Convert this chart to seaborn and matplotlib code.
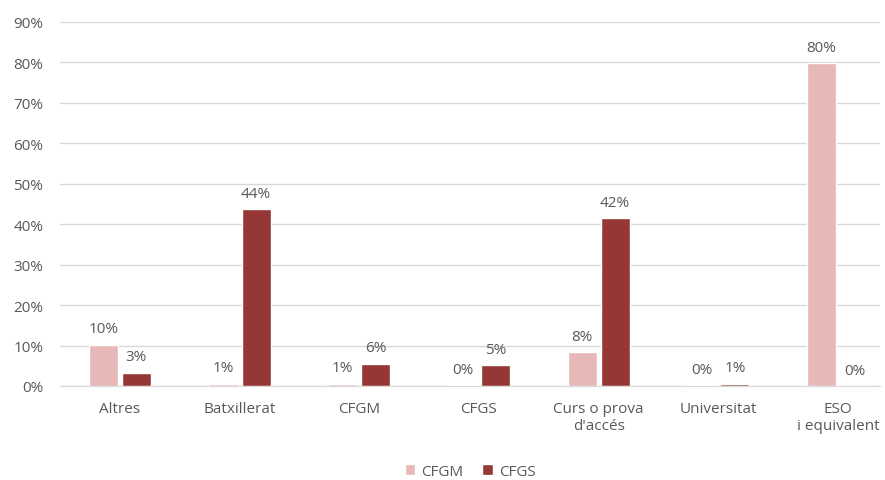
import pandas as pd
import numpy as np
import matplotlib.pyplot as plt
import seaborn as sns

# Data
categories = ['Altres', 'Batxillerat', 'CFGM', 'CFGS', "Curs o prova\nd'accés", 'Universitat', 'ESO\ni equivalent']
cfgm = [10.2, 0.6, 0.6, 0.2, 8.4, 0.2, 79.8]
cfgs = [3.3, 43.8, 5.5, 5.2, 41.5, 0.6, 0.0]
cfgm_labels = ['10%', '1%', '1%', '0%', '8%', '0%', '80%']
cfgs_labels = ['3%', '44%', '6%', '5%', '42%', '1%', '0%']

df = pd.DataFrame({
    'cat': categories * 2,
    'val': cfgm + cfgs,
    'grup': ['CFGM'] * len(categories) + ['CFGS'] * len(categories),
})

sns.set_style('white')
plt.rcParams['font.family'] = ['Open Sans', 'DejaVu Sans']
text_col = '#595959'
fs = 11

fig = plt.figure(figsize=(8.85, 4.81), dpi=100)
ax = fig.add_axes([60 / 885, 1 - 387 / 481, 820 / 885, 364 / 481])

sns.barplot(data=df, x='cat', y='val', hue='grup', palette=['#e6b8b7', '#953735'],
            saturation=1, width=0.55, gap=0.12, ax=ax, legend=True)

# value labels
for cont, labels in zip(ax.containers, [cfgm_labels, cfgs_labels]):
    ax.bar_label(cont, labels=labels, padding=6, fontsize=fs, color=text_col)

ax.set_ylim(0, 90)
ax.set_xlim(-0.5, 6.35)
ax.set_yticks(np.arange(0, 91, 10))
ax.set_yticklabels([f'{v}%' for v in range(0, 91, 10)])
ax.yaxis.grid(True, color='#d9d9d9', linewidth=1)
ax.set_axisbelow(True)
for s in ax.spines.values():
    s.set_visible(False)
ax.spines['bottom'].set_visible(True)
ax.spines['bottom'].set_color('#d9d9d9')
ax.tick_params(axis='both', length=0, labelsize=fs, colors=text_col)
ax.tick_params(axis='x', pad=11)
ax.tick_params(axis='y', pad=12)
for lbl in ax.get_xticklabels():
    lbl.set_multialignment('center')
ax.set_xlabel('')
ax.set_ylabel('')

ax.legend(loc='lower center', bbox_to_anchor=(0.5, -0.285), ncol=2, frameon=False,
          fontsize=fs, labelcolor=text_col, handlelength=0.7, handleheight=0.7,
          columnspacing=1.2, handletextpad=0.4, borderpad=0.2)

fig.savefig('out.png', dpi=100)
